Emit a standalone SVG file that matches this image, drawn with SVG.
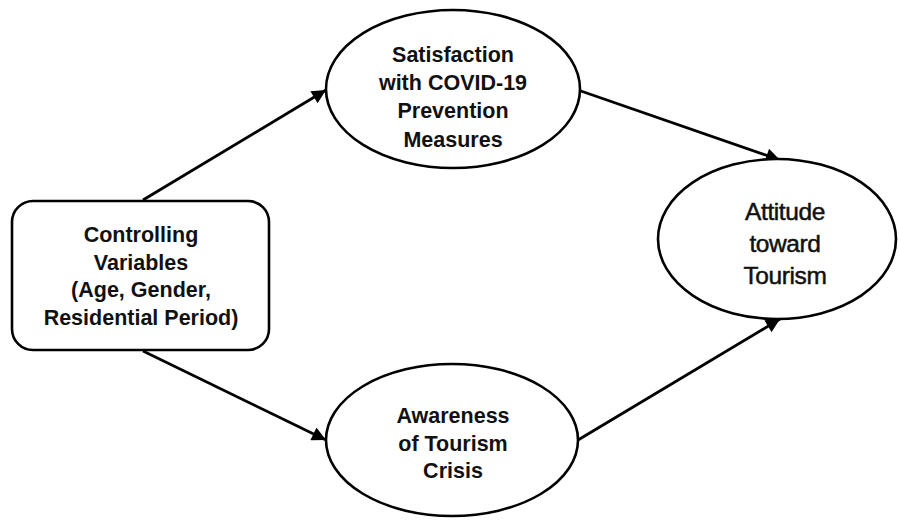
<svg xmlns="http://www.w3.org/2000/svg" width="899" height="520" viewBox="0 0 899 520">
<defs>
<marker id="arr" viewBox="0 0 10 10" refX="10" refY="5" markerWidth="5.5" markerHeight="5" orient="auto" markerUnits="strokeWidth">
<path d="M0,0 L10,5 L0,10 z" fill="#000"/>
</marker>
<style>
.shape{fill:#fff;stroke:#000;stroke-width:2.6}
.t{font-family:"Liberation Sans",Arial,sans-serif;font-size:21.5px;font-weight:bold;text-anchor:middle;fill:#111}
.t2{font-family:"Liberation Sans",Arial,sans-serif;font-size:24.5px;text-anchor:middle;fill:#111;stroke:#111;stroke-width:0.5;letter-spacing:-0.4px}
.c{stroke:#000;stroke-width:2.8;fill:none;marker-end:url(#arr)}
</style>
</defs>
<rect width="899" height="520" fill="#fff"/>
<g id="connectors">
<line class="c" x1="143" y1="200" x2="326" y2="90"/>
<line class="c" x1="578" y1="90" x2="780" y2="160"/>
<line class="c" x1="143" y1="351" x2="326" y2="440"/>
<line class="c" x1="578" y1="440" x2="780" y2="319"/>
</g>
<g id="controlling">
<rect class="shape" x="12" y="201" width="257" height="149" rx="21"/>
<text class="t" x="141" y="242">Controlling</text>
<text class="t" x="141" y="269.5">Variables</text>
<text class="t" x="141" y="297">(Age, Gender,</text>
<text class="t" x="141" y="325">Residential Period)</text>
</g>
<g id="satisfaction">
<ellipse class="shape" cx="453" cy="89" rx="127" ry="79"/>
<text class="t" x="453" y="62">Satisfaction</text>
<text class="t" x="453" y="90">with COVID-19</text>
<text class="t" x="453" y="118">Prevention</text>
<text class="t" x="453" y="147">Measures</text>
</g>
<g id="awareness">
<ellipse class="shape" cx="452" cy="440" rx="126" ry="76"/>
<text class="t" x="453" y="423">Awareness</text>
<text class="t" x="453" y="451">of Tourism</text>
<text class="t" x="453" y="478">Crisis</text>
</g>
<g id="attitude">
<ellipse class="shape" cx="777" cy="239" rx="119" ry="80"/>
<text class="t2" x="785" y="220">Attitude</text>
<text class="t2" x="785" y="252">toward</text>
<text class="t2" x="785" y="284">Tourism</text>
</g>
</svg>
